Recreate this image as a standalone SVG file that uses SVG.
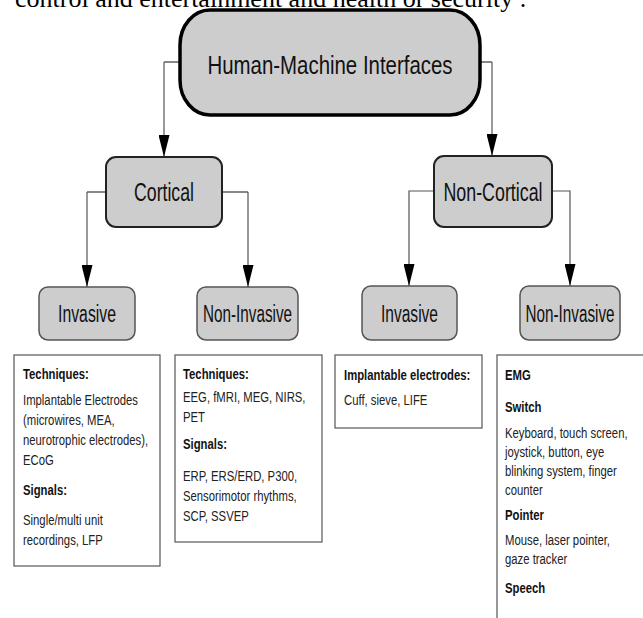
<svg xmlns="http://www.w3.org/2000/svg" width="643" height="618" viewBox="0 0 643 618">
<defs>
<marker id="arr" viewBox="0 0 22 11" markerWidth="22" markerHeight="11" refX="22" refY="5.5" orient="auto" markerUnits="userSpaceOnUse"><path d="M0,0 L22,5.5 L0,11 z" fill="#000"/></marker>
<style>
.lbl{font-family:"Liberation Sans",Arial,sans-serif;fill:#111;text-anchor:middle}
.t{font-family:"Liberation Sans",Arial,sans-serif;font-size:14.5px;fill:#222}
.b{font-weight:bold;fill:#111}
.con{fill:none;stroke:#555;stroke-width:1.2}
.stub{fill:none;stroke:#888;stroke-width:2}
.n2{fill:#cdcdcd;stroke:#222;stroke-width:2}
.n3{fill:#cdcdcd;stroke:#555;stroke-width:1.5}
.box{fill:#fff;stroke:#555;stroke-width:1.2}
</style>
</defs>
<rect width="643" height="618" fill="#fff"/>
<text x="15" y="7" font-family="Liberation Serif,Times New Roman,serif" font-size="26" fill="#000">control and entertainment and health or security .</text>

<g id="connectors">
<path class="stub" d="M180,62 H164"/>
<path class="con" d="M164,62 V157" marker-end="url(#arr)"/>
<path class="stub" d="M480,62 H492"/>
<path class="con" d="M492,62 V156" marker-end="url(#arr)"/>
<path class="stub" d="M106,192 H87"/>
<path class="con" d="M87,192 V287" marker-end="url(#arr)"/>
<path class="stub" d="M222,192 H248"/>
<path class="con" d="M248,192 V287" marker-end="url(#arr)"/>
<path class="con" d="M434,191 H409 V286" marker-end="url(#arr)"/>
<path class="con" d="M552,191 H570 V286" marker-end="url(#arr)"/>
</g>

<g id="hmi">
<rect x="180" y="10" width="300" height="105" rx="30" ry="35" fill="#cdcdcd" stroke="#000" stroke-width="3.5"/>
<text class="lbl" x="330" y="74" font-size="26" textLength="245" lengthAdjust="spacingAndGlyphs">Human-Machine Interfaces</text>
</g>
<g id="cortical">
<rect class="n2" x="106" y="157" width="116" height="70" rx="10"/>
<text class="lbl" x="164" y="201" font-size="25" textLength="60" lengthAdjust="spacingAndGlyphs">Cortical</text>
</g>
<g id="noncortical">
<rect class="n2" x="434" y="156" width="118" height="71" rx="10"/>
<text class="lbl" x="493" y="201" font-size="25" textLength="99" lengthAdjust="spacingAndGlyphs">Non-Cortical</text>
</g>
<g id="invasive-c">
<rect class="n3" x="39" y="287" width="96" height="53" rx="9"/>
<text class="lbl" x="87" y="322" font-size="23" textLength="58" lengthAdjust="spacingAndGlyphs">Invasive</text>
</g>
<g id="noninvasive-c">
<rect class="n3" x="197" y="287" width="101" height="53" rx="9"/>
<text class="lbl" x="247.5" y="322" font-size="23" textLength="89" lengthAdjust="spacingAndGlyphs">Non-Invasive</text>
</g>
<g id="invasive-nc">
<rect class="n3" x="362" y="286" width="95" height="54" rx="9"/>
<text class="lbl" x="409.5" y="322" font-size="23" textLength="57" lengthAdjust="spacingAndGlyphs">Invasive</text>
</g>
<g id="noninvasive-nc">
<rect class="n3" x="520" y="286" width="100" height="54" rx="9"/>
<text class="lbl" x="570" y="322" font-size="23" textLength="89" lengthAdjust="spacingAndGlyphs">Non-Invasive</text>
</g>

<g id="box-invasive-c">
<rect class="box" x="14" y="355" width="146" height="211"/>
<g transform="translate(23,0) scale(0.78,1)">
<text class="t b" x="0" y="379">Techniques:</text>
<text class="t" x="0" y="405">Implantable Electrodes</text>
<text class="t" x="0" y="425">(microwires, MEA,</text>
<text class="t" x="0" y="445">neurotrophic electrodes),</text>
<text class="t" x="0" y="465">ECoG</text>
<text class="t b" x="0" y="495">Signals:</text>
<text class="t" x="0" y="525">Single/multi unit</text>
<text class="t" x="0" y="545">recordings, LFP</text>
</g>
</g>
<g id="box-noninvasive-c">
<rect class="box" x="175" y="355" width="147" height="187"/>
<g transform="translate(183,0) scale(0.78,1)">
<text class="t b" x="0" y="379">Techniques:</text>
<text class="t" x="0" y="402">EEG, fMRI, MEG, NIRS,</text>
<text class="t" x="0" y="422">PET</text>
<text class="t b" x="0" y="449">Signals:</text>
<text class="t" x="0" y="481">ERP, ERS/ERD, P300,</text>
<text class="t" x="0" y="501">Sensorimotor rhythms,</text>
<text class="t" x="0" y="521">SCP, SSVEP</text>
</g>
</g>
<g id="box-invasive-nc">
<rect class="box" x="335" y="355" width="147" height="73"/>
<g transform="translate(344,0) scale(0.78,1)">
<text class="t b" x="0" y="380">Implantable electrodes:</text>
<text class="t" x="0" y="405">Cuff, sieve, LIFE</text>
</g>
</g>
<g id="box-noninvasive-nc">
<rect class="box" x="497" y="355" width="170" height="280"/>
<g transform="translate(505,0) scale(0.78,1)">
<text class="t b" x="0" y="380">EMG</text>
<text class="t b" x="0" y="412">Switch</text>
<text class="t" x="0" y="438">Keyboard, touch screen,</text>
<text class="t" x="0" y="457">joystick, button, eye</text>
<text class="t" x="0" y="476">blinking system, finger</text>
<text class="t" x="0" y="495">counter</text>
<text class="t b" x="0" y="520">Pointer</text>
<text class="t" x="0" y="545">Mouse, laser pointer,</text>
<text class="t" x="0" y="564">gaze tracker</text>
<text class="t b" x="0" y="593">Speech</text>
</g>
</g>
</svg>
